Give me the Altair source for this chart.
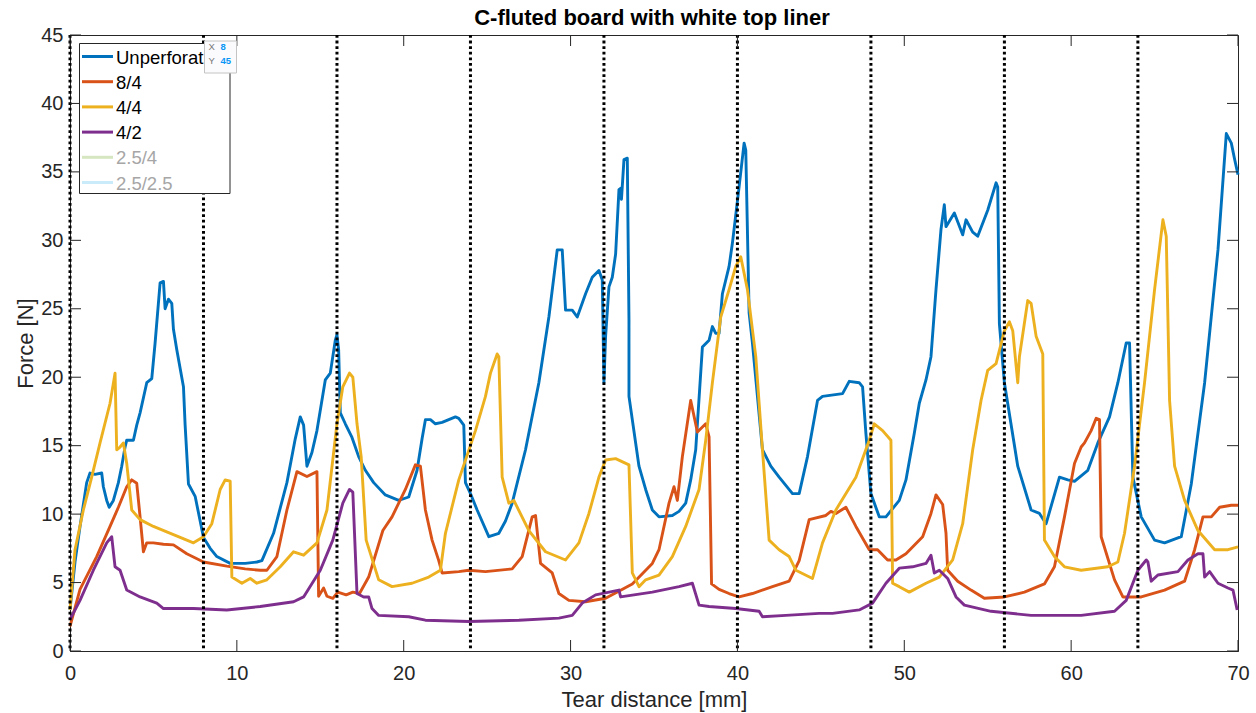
import altair as alt
import pandas as pd

# ---------------- data ----------------
chart_title = "C-fluted board with white top liner"
series_names = ["Unperforated", "8/4", "4/4", "4/2", "2.5/4", "2.5/2.5"]
series_colors = ["#0072BD", "#D95319", "#EDB120", "#7E2F8E", "#d6e6c1", "#caebfa"]
legend_text_colors = ["#000000", "#000000", "#000000", "#000000", "#a6a6a6", "#a6a6a6"]

x_ticks = [0, 10, 20, 30, 40, 50, 60, 70]
y_ticks = [0, 5, 10, 15, 20, 25, 30, 35, 40, 45]
section_lines = [0, 8, 16, 24, 32, 40, 48, 56, 64]
tip_x = [8]
tip_y = [45]

unperf_x = [0, 0.3, 0.6, 1.0, 1.2, 1.5, 1.9, 2.0, 2.2, 2.35, 2.6, 2.9, 3.1, 3.3, 3.4, 3.8, 4.0, 4.2, 4.6, 4.9,
            5.1, 5.4, 5.6, 5.7, 5.9, 6.1, 6.2, 6.4, 6.8, 6.9, 7.1, 7.5, 7.8, 8.0, 8.4, 8.8, 9.6, 10.5, 11.2, 11.5,
            12.2, 13.0, 13.5, 13.8, 14.0, 14.2, 14.5, 14.8, 15.3, 15.6, 15.9, 16.0, 16.1, 16.2, 16.5, 16.9, 17.3,
            17.7, 18.2, 18.9, 19.7, 20.3, 20.8, 21.1, 21.3, 21.6, 21.9, 22.3, 22.7, 23.1, 23.3, 23.6, 23.7, 24.0,
            24.4, 25.1, 25.7, 26.1, 26.5, 27.3, 28.1, 28.7, 29.2, 29.5, 29.7, 30.1, 30.4, 30.9, 31.3, 31.7, 31.9,
            32.0, 32.1, 32.3, 32.5, 32.7, 32.9, 33.0, 33.05, 33.2, 33.4, 33.5, 33.5, 34.1, 34.5, 34.9, 35.3, 36.1,
            36.5, 36.9, 37.2, 37.5, 37.9, 38.3, 38.5, 38.7, 38.9, 39.1, 39.5, 39.7, 40.1, 40.4, 40.5, 40.7, 40.9,
            41.5, 42.0, 42.5, 43.3, 43.7, 44.2, 44.8, 45.1, 46.3, 46.7, 47.3, 47.5, 47.7, 48.0, 48.5, 48.9, 49.7,
            50.1, 50.6, 50.9, 51.3, 51.6, 51.9, 52.2, 52.4, 52.5, 53.0, 53.5, 53.7, 54.1, 54.4, 55.0, 55.5, 55.6,
            55.7, 56.0, 56.8, 57.6, 58.1, 58.5, 59.3, 59.8, 60.2, 61.0, 61.6, 62.3, 62.8, 63.3, 63.5, 63.7, 64.2,
            65.0, 65.6, 66.6, 67.2, 68.0, 68.8, 69.3, 69.6, 69.8, 70.0]
unperf_y = [3.0, 6.5, 9.1, 12.3, 13.0, 12.9, 13.0, 12.0, 11.0, 10.5, 11.0, 12.3, 13.5, 14.9, 15.4, 15.4, 16.5, 17.4,
            19.6, 19.9, 22.5, 26.9, 27.0, 25.0, 25.7, 25.4, 23.5, 22.0, 19.3, 16.5, 12.2, 11.3, 9.5, 8.3, 7.5, 6.9,
            6.4, 6.4, 6.5, 6.6, 8.6, 12.3, 15.5, 17.1, 16.5, 13.5, 14.5, 16.1, 19.8, 20.3, 22.7, 23.1, 22.0, 17.4,
            16.6, 15.6, 14.2, 13.2, 12.3, 11.4, 11.0, 11.25, 13.2, 15.5, 16.9, 16.9, 16.6, 16.7, 16.9, 17.1, 17.0,
            16.5, 12.3, 11.5, 10.3, 8.35, 8.6, 9.5, 10.8, 14.7, 19.6, 24.4, 29.3, 29.3, 24.9, 24.9, 24.4, 26.1,
            27.3, 27.8, 27.1, 19.6, 23.0, 26.6, 27.3, 29.0, 33.7, 33.8, 33.0, 35.9, 36.0, 24.2, 18.6, 13.5, 11.8,
            10.3, 9.8, 9.9, 10.2, 10.8, 12.5, 14.7, 22.2, 22.7, 23.7, 23.2, 23.2, 26.1, 28.1, 29.8, 33.9, 37.1,
            36.6, 24.7, 22.5, 14.7, 13.5, 12.7, 11.5, 11.5, 14.2, 18.3, 18.6, 18.8, 19.7, 19.6, 19.3, 15.9, 11.5,
            9.8, 9.8, 11.0, 12.5, 15.9, 18.1, 19.8, 21.5, 26.4, 30.8, 32.6, 31.0, 32.0, 30.4, 31.5, 30.6, 30.3,
            32.2, 34.2, 33.9, 23.9, 19.6, 13.5, 10.3, 10.05, 9.3, 12.7, 12.5, 12.4, 13.2, 15.2, 17.1, 19.6, 22.5,
            22.5, 12.7, 9.8, 8.1, 7.9, 8.35, 12.2, 19.6, 29.3, 37.8, 37.1, 35.9, 34.8]

p84_x = [0, 0.6, 1.6, 2.4, 2.9, 3.4, 3.7, 4.0, 4.2, 4.4, 4.6, 5.0, 5.6, 6.2, 7.0, 8.0, 9.4, 10.5, 11.4, 11.8,
         12.4, 13.0, 13.6, 14.2, 14.8, 14.9, 15.2, 15.4, 15.75, 16.05, 16.55, 16.95, 17.35, 17.9, 18.75, 19.3,
         20.1, 20.7, 21.0, 21.3, 21.7, 22.1, 22.3, 23.3, 23.9, 24.9, 26.5, 27.1, 27.7, 27.9, 28.2, 28.9, 29.3,
         29.9, 30.9, 32.1, 33.7, 34.9, 35.3, 35.9, 36.2, 36.4, 36.7, 37.2, 37.6, 38.1, 38.3, 38.45, 38.9, 39.5,
         40.1, 40.9, 42.1, 43.1, 43.7, 44.3, 45.3, 45.6, 45.9, 46.5, 47.1, 47.9, 48.4, 49.0, 49.5, 50.1, 51.1,
         51.6, 51.9, 52.3, 52.5, 52.6, 53.2, 54.0, 54.8, 56.0, 57.2, 58.4, 59.0, 59.6, 60.2, 60.6, 60.8, 61.2,
         61.5, 61.7, 61.8, 62.6, 63.1, 64.2, 65.6, 66.8, 67.4, 67.9, 68.4, 68.9, 69.6, 70.0]
p84_y = [1.8, 4.5, 6.9, 9.1, 10.5, 12.0, 12.5, 12.25, 9.8, 7.25, 7.9, 7.9, 7.8, 7.75, 7.1, 6.5, 6.2, 6.0, 5.9,
         5.9, 6.9, 10.3, 13.1, 12.75, 13.1, 4.0, 4.6, 4.0, 3.85, 4.3, 4.1, 4.3, 4.2, 5.4, 8.8, 9.8, 11.8, 13.6,
         13.5, 10.3, 8.1, 6.6, 5.7, 5.8, 5.9, 5.8, 6.0, 6.9, 9.8, 9.9, 6.4, 5.7, 4.2, 3.7, 3.6, 3.85, 4.9, 6.4,
         7.4, 10.8, 12.0, 11.0, 14.2, 18.3, 16.0, 16.6, 15.65, 4.9, 4.5, 4.2, 3.95, 4.2, 4.7, 5.1, 6.6, 9.6,
         9.9, 10.2, 10.05, 10.5, 9.1, 7.4, 7.4, 6.65, 6.65, 7.1, 8.35, 10.05, 11.4, 10.7, 8.6, 5.9, 5.1, 4.45,
         3.85, 3.95, 4.3, 4.9, 6.15, 9.8, 13.7, 14.9, 15.2, 16.1, 17.0, 16.9, 8.35, 5.2, 3.95, 3.95, 4.45, 5.1,
         7.4, 9.8, 9.8, 10.5, 10.65, 10.65]

p44_x = [0, 0.3, 0.8, 1.3, 1.8, 2.4, 2.7, 2.8, 3.0, 3.2, 3.4, 3.7, 4.2, 5.0, 6.2, 7.4, 8.0, 8.5, 9.0, 9.3, 9.6,
         9.7, 10.3, 10.8, 11.2, 11.8, 12.6, 13.4, 14.0, 14.8, 15.4, 16.0, 16.35, 16.75, 16.95, 17.2, 17.45, 17.75,
         18.5, 19.3, 20.5, 21.5, 22.2, 22.5, 23.3, 24.3, 24.9, 25.2, 25.6, 25.7, 25.9, 26.3, 26.6, 27.5, 28.5,
         29.7, 30.5, 31.1, 31.7, 32.1, 32.7, 33.5, 33.7, 34.1, 34.5, 35.3, 36.1, 36.9, 37.7, 38.1, 38.5, 39.0,
         39.5, 39.9, 40.2, 40.6, 41.1, 41.5, 41.9, 42.5, 43.1, 43.5, 44.5, 45.1, 45.9, 47.1, 47.9, 48.2, 48.7,
         49.2, 49.3, 49.7, 50.3, 51.3, 52.1, 52.9, 53.5, 54.1, 54.6, 55.0, 55.5, 56.0, 56.3, 56.5, 56.8, 56.9,
         57.4, 57.6, 57.9, 58.3, 58.4, 59.0, 59.6, 60.6, 62.2, 62.8, 63.2, 63.8, 64.4, 65.0, 65.5, 65.7, 65.9,
         66.2, 66.8, 67.6, 68.6, 69.4, 70.0]
p44_y = [3.0, 7.4, 10.3, 12.7, 15.2, 18.1, 20.3, 14.7, 14.9, 15.2, 13.7, 10.3, 9.6, 9.1, 8.5, 7.9, 8.35, 9.3,
         11.8, 12.5, 12.4, 5.4, 4.95, 5.3, 4.95, 5.2, 6.15, 7.25, 7.0, 7.9, 10.3, 16.6, 19.3, 20.3, 20.0, 16.6,
         14.2, 8.1, 5.2, 4.7, 4.95, 5.4, 5.9, 8.6, 12.5, 16.1, 18.6, 20.3, 21.7, 21.5, 12.7, 10.8, 11.0, 8.8,
         7.25, 6.65, 7.9, 10.05, 12.7, 13.95, 14.05, 13.6, 5.7, 4.7, 5.2, 5.55, 6.9, 9.1, 11.8, 15.4, 19.6, 24.4,
         26.4, 28.1, 28.8, 26.4, 21.5, 14.7, 8.1, 7.4, 6.9, 5.9, 5.3, 7.9, 10.3, 12.7, 15.4, 16.6, 16.1, 15.4,
         4.95, 4.7, 4.3, 4.95, 5.4, 6.65, 9.3, 14.7, 18.3, 20.5, 21.0, 23.4, 24.05, 23.4, 19.6, 21.5, 25.6,
         25.4, 23.0, 21.7, 8.1, 6.9, 6.15, 5.9, 6.15, 6.5, 8.6, 13.5, 19.6, 26.4, 31.5, 30.3, 18.3, 13.5, 11.0,
         8.8, 7.4, 7.4, 7.6]

p42_x = [0, 0.6, 1.4, 2.2, 2.5, 2.7, 3.0, 3.4, 4.2, 5.2, 5.6, 7.4, 9.4, 11.4, 13.4, 14.0, 15.0, 15.75, 16.35,
         16.75, 16.95, 17.2, 17.6, 17.9, 18.1, 18.5, 20.3, 21.3, 23.9, 26.9, 29.3, 30.1, 30.7, 31.5, 32.9, 33.0,
         34.9, 36.5, 37.3, 37.7, 38.3, 39.9, 41.3, 41.5, 42.9, 44.9, 45.7, 47.3, 48.1, 48.9, 49.7, 50.5, 51.3,
         51.6, 51.8, 52.1, 52.6, 53.1, 53.6, 55.2, 57.6, 60.6, 62.6, 63.3, 64.0, 64.5, 64.6, 64.8, 65.2, 66.4,
         67.0, 67.6, 67.9, 68.0, 68.3, 68.8, 69.4, 69.7, 69.95]
p42_y = [2.3, 3.7, 5.9, 7.9, 8.35, 6.15, 5.9, 4.45, 3.95, 3.5, 3.1, 3.1, 3.0, 3.25, 3.6, 3.95, 5.9, 8.1, 10.8,
         11.8, 11.6, 4.2, 3.95, 3.95, 3.1, 2.6, 2.5, 2.25, 2.15, 2.25, 2.4, 2.6, 3.5, 4.1, 4.45, 3.95, 4.3, 4.7,
         4.95, 3.35, 3.25, 3.1, 2.9, 2.5, 2.6, 2.75, 2.75, 3.0, 3.5, 4.95, 6.05, 6.15, 6.4, 7.0, 5.7, 5.9, 5.3,
         3.95, 3.35, 2.9, 2.6, 2.6, 2.9, 3.7, 5.9, 6.65, 6.5, 5.1, 5.55, 5.8, 6.65, 7.1, 7.1, 5.4, 5.8, 4.95,
         4.6, 4.45, 3.0]

# ---------------- build table ----------------
rows = []
for name, xs_, ys_ in [("Unperforated", unperf_x, unperf_y), ("8/4", p84_x, p84_y),
                       ("4/4", p44_x, p44_y), ("4/2", p42_x, p42_y)]:
    for i, (a, b) in enumerate(zip(xs_, ys_)):
        rows.append({"series": name, "x": a, "y": b, "i": i})
df = pd.DataFrame(rows)

FONT = "Liberation Sans"
AX = "#262626"
W, H = 1168, 616

xs = alt.Scale(domain=[0, 70], nice=False, zero=False)
ys = alt.Scale(domain=[0, 45], nice=False, zero=False)

x_axis = alt.Axis(
    values=x_ticks, tickSize=0, labelFontSize=20, labelPadding=12, labelFlush=False,
    labelOverlap=False, grid=False, domainColor=AX, labelColor=AX, labelFont=FONT,
    title="Tear distance [mm]", titleFont=FONT, titleFontSize=22, titleFontWeight="normal",
    titleColor=AX, titleY=55, titleBaseline="alphabetic")
y_axis = alt.Axis(
    values=y_ticks, tickSize=0, labelFontSize=20, labelPadding=7, labelFlush=False,
    labelOverlap=False, grid=False, domainColor=AX, labelColor=AX, labelFont=FONT,
    title="Force [N]", titleFont=FONT, titleFontSize=22, titleFontWeight="normal",
    titleColor=AX, titleX=-45, titleY=H / 2, titleAngle=270, titleBaseline="middle")


def X(field):
    return alt.X(field, scale=xs, axis=x_axis)


def Y(field):
    return alt.Y(field, scale=ys, axis=y_axis)


lines = alt.Chart(df).mark_line(strokeWidth=2.9, strokeJoin="round").encode(
    x=X("x:Q"),
    y=Y("y:Q"),
    color=alt.Color("series:N", scale=alt.Scale(domain=series_names, range=series_colors), legend=None),
    order=alt.Order("i:Q"),
)

sec_df = pd.DataFrame({"x": section_lines})
sections = alt.Chart(sec_df).mark_rule(color="black", strokeWidth=3, strokeDash=[2.8, 2.8]).encode(
    x=X("x:Q")
)

xt = pd.DataFrame({"x": x_ticks})
yt = pd.DataFrame({"y": y_ticks})
TL = 11
tick_layers = [
    alt.Chart(xt).mark_rule(color=AX, strokeWidth=1).encode(
        x=X("x:Q"), y=alt.value(H), y2=alt.value(H - TL)),
    alt.Chart(xt).mark_rule(color=AX, strokeWidth=1).encode(
        x=X("x:Q"), y=alt.value(0), y2=alt.value(TL)),
    alt.Chart(yt).mark_rule(color=AX, strokeWidth=1).encode(
        y=Y("y:Q"), x=alt.value(0), x2=alt.value(TL)),
    alt.Chart(yt).mark_rule(color=AX, strokeWidth=1).encode(
        y=Y("y:Q"), x=alt.value(W - TL), x2=alt.value(W)),
]

one = pd.DataFrame({"a": [0]})

# ---------------- title (text mark above the plot) ----------------
title_layer = alt.Chart(one).mark_text(
    align="center", baseline="alphabetic", font=FONT, fontSize=22, fontWeight="bold", color="black"
).encode(x=alt.value(W / 2 - 2), y=alt.value(-10), text=alt.value(chart_title))

# ---------------- legend (drawn as marks so the data tip can sit on top) ----------------
legend_layers = [
    alt.Chart(one).mark_rect(fill="white", stroke=AX, strokeWidth=1).encode(
        x=alt.value(9.5), x2=alt.value(160), y=alt.value(8.5), y2=alt.value(158.5))
]
ROW0, STEP = 21.5, 25.2
for k, (nm, col, tcol) in enumerate(zip(series_names, series_colors, legend_text_colors)):
    yy = ROW0 + k * STEP
    legend_layers.append(
        alt.Chart(one).mark_rule(color=col, strokeWidth=3).encode(
            x=alt.value(12), x2=alt.value(43), y=alt.value(yy)))
    legend_layers.append(
        alt.Chart(one).mark_text(align="left", baseline="middle", font=FONT, fontSize=18.5,
                                 color=tcol, limit=89, ellipsis="\u200b").encode(
            x=alt.value(46), y=alt.value(yy + 1), text=alt.value(nm)))

# ---------------- data tip ----------------
tip_df = pd.DataFrame({"x": tip_x, "y": tip_y})
tip_layers = [
    alt.Chart(tip_df).mark_rect(fill="#fbfbfd", stroke="#c4c4c4", strokeWidth=1,
                                xOffset=1, x2Offset=33, yOffset=6, y2Offset=38).encode(
        x=X("x:Q"), x2="x:Q", y=Y("y:Q"), y2="y:Q"),
    alt.Chart(tip_df).mark_text(align="left", baseline="middle", font=FONT, fontSize=9.5,
                                color="#777777", dx=5, dy=11.5).encode(
        x=X("x:Q"), y=Y("y:Q"), text=alt.value("X")),
    alt.Chart(tip_df).mark_text(align="left", baseline="middle", font=FONT, fontSize=9.5,
                                fontWeight="bold", color="#0a96f5", dx=17, dy=11.5).encode(
        x=X("x:Q"), y=Y("y:Q"), text=alt.Text("x:Q")),
    alt.Chart(tip_df).mark_text(align="left", baseline="middle", font=FONT, fontSize=9.5,
                                color="#777777", dx=5, dy=25.5).encode(
        x=X("x:Q"), y=Y("y:Q"), text=alt.value("Y")),
    alt.Chart(tip_df).mark_text(align="left", baseline="middle", font=FONT, fontSize=9.5,
                                fontWeight="bold", color="#0a96f5", dx=17, dy=25.5).encode(
        x=X("x:Q"), y=Y("y:Q"), text=alt.Text("y:Q")),
]

chart = alt.layer(lines, sections, *tick_layers, title_layer, *legend_layers, *tip_layers).properties(
    width=W, height=H,
    autosize=alt.AutoSizeParams(type="none"),
    padding={"left": 70, "top": 35, "right": 18, "bottom": 62},
    background="white",
).configure_view(stroke=AX, strokeWidth=1)

chart.save("out.html", embed_options={"renderer": "svg", "actions": False})
